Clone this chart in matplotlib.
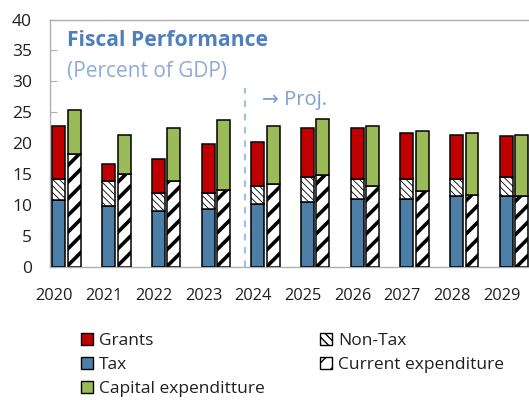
import matplotlib
matplotlib.use("Agg")
import matplotlib.pyplot as plt
from matplotlib.patches import Patch

plt.rcParams["font.family"] = ["Open Sans", "DejaVu Sans"]

years = ["2020", "2021", "2022", "2023", "2024", "2025", "2026", "2027", "2028", "2029"]
tax = [10.8, 9.9, 9.1, 9.4, 10.2, 10.5, 11.0, 11.0, 11.4, 11.4]
non_tax = [3.4, 4.0, 2.9, 2.6, 2.9, 4.1, 3.2, 3.2, 2.8, 3.1]
grants = [8.6, 2.7, 5.4, 7.9, 7.1, 7.9, 8.3, 7.4, 7.2, 6.6]
current_exp = [18.3, 15.1, 13.9, 12.5, 13.4, 14.9, 13.1, 12.3, 11.7, 11.4]
capital_exp = [7.1, 6.3, 8.6, 11.2, 9.4, 9.0, 9.7, 9.6, 9.9, 10.0]

BLUE = "#4d7fa6"
RED = "#c00000"
GREEN = "#9bbb59"
GRID = "#b0b0b0"
TXT = "#1f1f1f"

fig = plt.figure(figsize=(5.29, 4.0), dpi=100)
ax = fig.add_axes([50 / 529, 133 / 400, 479 / 529, 247.5 / 400])

x = list(range(len(years)))
w = 0.26
xr = [i + 0.09 for i in x]
xe = [i + 0.40 for i in x]
rev_bottom2 = [a + b for a, b in zip(tax, non_tax)]

kw = dict(width=w, edgecolor="black", linewidth=1.1, zorder=3)
ax.bar(xr, tax, color=BLUE, **kw)
with plt.rc_context({"hatch.linewidth": 0.6}):
    nt = ax.bar(xr, non_tax, bottom=tax, color="white", hatch="\\\\\\\\\\", **kw)
ax.bar(xr, grants, bottom=rev_bottom2, color=RED, **kw)
with plt.rc_context({"hatch.linewidth": 2.6}):
    ce = ax.bar(xe, current_exp, color="white", hatch="//", **kw)
ax.bar(xe, capital_exp, bottom=current_exp, color=GREEN, **kw)
for p in nt:
    if hasattr(p, "set_hatch_linewidth"):
        p.set_hatch_linewidth(0.6)
for p in ce:
    if hasattr(p, "set_hatch_linewidth"):
        p.set_hatch_linewidth(2.6)

ax.set_xlim(-0.09, 9.547)
ax.set_ylim(0, 40)
ax.set_yticks(range(0, 41, 5))
ax.set_xticks(x)
ax.set_xticklabels(years)
ax.tick_params(axis="y", direction="in", length=5, color=GRID, pad=13,
               labelsize=12.5, labelcolor=TXT)
ax.tick_params(axis="x", length=0, pad=15, labelsize=11.8, labelcolor=TXT)
for s in ("left", "top", "bottom"):
    ax.spines[s].set_color(GRID)
    ax.spines[s].set_linewidth(1.0)
ax.spines["right"].set_visible(False)

# projection marker
ax.plot([3.83, 3.83], [0, 28.9], color="#9dc3e6", linestyle=(0, (3, 3)),
        linewidth=1.6, zorder=2)
ax.text(4.17, 27, "\u2192 Proj.", color="#7f9fd0", fontsize=14.5, va="center", ha="left")

ax.text(0.0355, 0.917, "Fiscal Performance", transform=ax.transAxes,
        color="#4f7fc0", fontsize=15.2, fontweight="bold", va="center", ha="left")
ax.text(0.0355, 0.788, "(Percent of GDP)", transform=ax.transAxes,
        color="#8eaadb", fontsize=15, va="center", ha="left")

handles = [
    Patch(facecolor=RED, edgecolor="black", label="Grants"),
    Patch(facecolor=BLUE, edgecolor="black", label="Tax"),
    Patch(facecolor=GREEN, edgecolor="black", label="Capital expenditture"),
    Patch(facecolor="white", edgecolor="black", hatch="\\\\\\\\", label="Non-Tax"),
    Patch(facecolor="white", edgecolor="black", hatch="//", label="Current expenditure"),
]
fig.legend(handles=handles, ncol=2, loc="upper left",
           bbox_to_anchor=(72 / 529, 1 - 324 / 400), frameon=False,
           fontsize=12.5, handlelength=0.7, handleheight=0.7,
           handletextpad=0.35, labelspacing=0.45, columnspacing=3.2,
           borderpad=0, labelcolor=TXT)

fig.savefig("out.png", dpi=100)
